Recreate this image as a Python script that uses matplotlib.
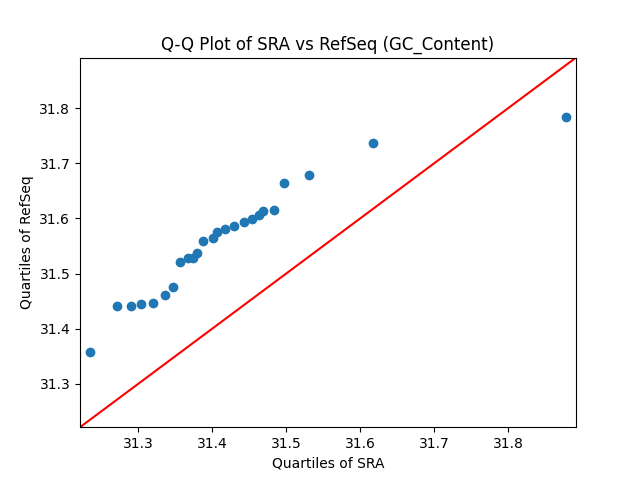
import matplotlib
matplotlib.use("Agg")
import matplotlib.pyplot as plt

sra_quantiles = [31.2345, 31.271, 31.290, 31.303, 31.320, 31.336, 31.347, 31.356,
                 31.367, 31.374, 31.379, 31.387, 31.401, 31.406, 31.417, 31.429,
                 31.443, 31.454, 31.463, 31.469, 31.483, 31.497, 31.531, 31.617, 31.878]
refseq_quantiles = [31.357, 31.441, 31.441, 31.444, 31.446, 31.461, 31.476, 31.521,
                    31.528, 31.528, 31.537, 31.559, 31.565, 31.576, 31.581, 31.587,
                    31.594, 31.599, 31.607, 31.614, 31.616, 31.665, 31.679, 31.737, 31.785]
lims = [31.221, 31.892]

fig, ax = plt.subplots(figsize=(6.4, 4.8), dpi=100)
ax.plot(sra_quantiles, refseq_quantiles, 'o', color='#1f77b4')
ax.plot(lims, lims, color='red')
ax.set_xlim(lims)
ax.set_ylim(lims)
ax.set_xlabel('Quartiles of SRA')
ax.set_ylabel('Quartiles of RefSeq')
ax.set_title('Q-Q Plot of SRA vs RefSeq (GC_Content)')
fig.savefig('out.png', dpi=100)
